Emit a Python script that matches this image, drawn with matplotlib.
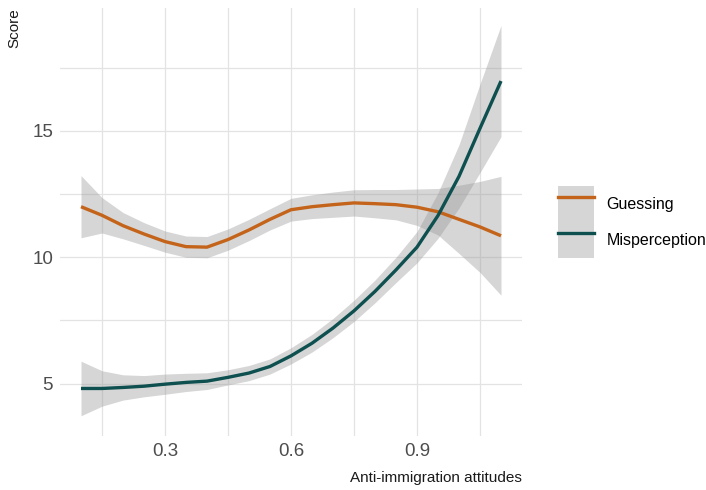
import matplotlib
matplotlib.use('Agg')
import matplotlib.pyplot as plt
from matplotlib.lines import Line2D
from matplotlib.patches import Patch
from matplotlib.ticker import MultipleLocator, FormatStrFormatter
import numpy as np

# values
attitudes = [0.10, 0.15, 0.20, 0.25, 0.30, 0.35, 0.40, 0.45, 0.50, 0.55, 0.60,
             0.65, 0.70, 0.75, 0.80, 0.85, 0.90, 0.95, 1.00, 1.05, 1.10]

guessing = [12.00, 11.66, 11.25, 10.92, 10.62, 10.42, 10.40, 10.70, 11.08, 11.50, 11.88,
            12.00, 12.08, 12.15, 12.12, 12.08, 11.98, 11.80, 11.50, 11.20, 10.85]
guessing_se = [1.23, 0.70, 0.52, 0.45, 0.42, 0.42, 0.42, 0.42, 0.42, 0.42, 0.45,
               0.47, 0.50, 0.52, 0.56, 0.60, 0.72, 0.92, 1.35, 1.80, 2.35]

misperception = [4.81, 4.81, 4.85, 4.90, 4.98, 5.05, 5.10, 5.25, 5.42, 5.68, 6.10,
                 6.60, 7.20, 7.88, 8.65, 9.50, 10.40, 11.65, 13.20, 15.10, 16.97]
misperception_se = [1.08, 0.70, 0.50, 0.42, 0.40, 0.36, 0.33, 0.30, 0.30, 0.30, 0.32,
                    0.35, 0.38, 0.42, 0.45, 0.50, 0.62, 0.90, 1.25, 1.75, 2.20]

series = [('Guessing', guessing, guessing_se, '#C4641A'),
          ('Misperception', misperception, misperception_se, '#0E4F4F')]

plt.rcParams['font.family'] = ['Liberation Sans', 'DejaVu Sans']

fig = plt.figure(figsize=(7.06, 4.90), dpi=100)
ax = fig.add_axes([60 / 706, 1 - 436 / 490, 462 / 706, 427.5 / 490])

x = np.array(attitudes)
for name, y, se, col in series:
    y = np.array(y)
    se = np.array(se)
    ax.fill_between(x, y - se, y + se, color='#999999', alpha=0.4, lw=0, zorder=2)
for name, y, se, col in series:
    ax.plot(x, y, color=col, lw=2.4, solid_capstyle='butt', zorder=3)

ax.set_xlim(0.05, 1.15)
ax.set_ylim(2.93, 19.84)
ax.xaxis.set_major_locator(MultipleLocator(0.3))
ax.xaxis.set_minor_locator(MultipleLocator(0.15))
ax.xaxis.set_major_formatter(FormatStrFormatter('%.1f'))
ax.yaxis.set_major_locator(MultipleLocator(5))
ax.yaxis.set_minor_locator(MultipleLocator(2.5))
ax.set_xticks([0.3, 0.6, 0.9])
ax.grid(True, which='both', color='#E3E3E3', lw=0.9, zorder=0)
ax.set_axisbelow(True)
for s in ax.spines.values():
    s.set_visible(False)
ax.tick_params(which='both', length=0)
ax.tick_params(axis='both', labelsize=13.5, labelcolor='#4D4D4D', pad=5)

ax.set_xlabel('Anti-immigration attitudes', loc='right', fontsize=11,
              color='#1A1A1A', labelpad=8)
ax.set_ylabel('Score', loc='top', fontsize=11, color='#1A1A1A', labelpad=8)

handles = [(Patch(facecolor='#D6D6D6', edgecolor='none'),
            Line2D([], [], color=col, lw=2.4)) for _, _, _, col in series]
labels = [s[0] for s in series]
fig.legend(handles, labels, loc='center left',
           bbox_to_anchor=(558 / 706, 1 - 222 / 490), bbox_transform=fig.transFigure,
           frameon=False, fontsize=11.5, handlelength=2.25, handleheight=3.1,
           labelspacing=0, handletextpad=0.8, borderpad=0, borderaxespad=0)

fig.savefig('out.png', dpi=100)
